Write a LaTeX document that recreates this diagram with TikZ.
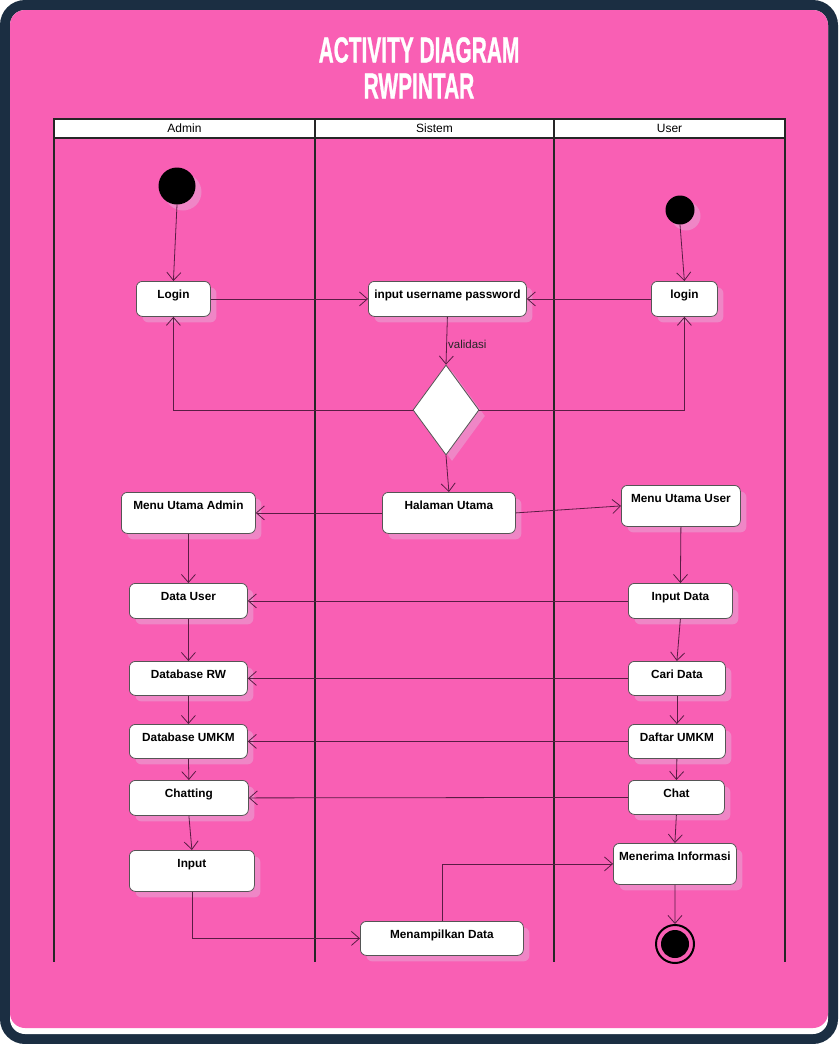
\documentclass[tikz,border=0pt]{standalone}
\usepackage{fontspec}
\setmainfont{Liberation Sans}
\newfontfamily\titlefont{Liberation Sans}[BoldFeatures={FakeBold=1.2}]
\usepackage{graphicx}
\usetikzlibrary{shapes.geometric, arrows.meta, shadows, calc}
\definecolor{bgpink}{HTML}{F95FB4}
\definecolor{shpink}{HTML}{EF86C6}
\definecolor{navy}{HTML}{1B2E42}
\definecolor{conn}{HTML}{5A1C44}
\definecolor{boxline}{HTML}{555555}
\newcommand\actnode[6]{%
  \node[act, minimum width=#4-#2, minimum height=#5-#3] (#1) at (#2,#3) {};
  \node[acttxt] (#1t) at ($(#1.north)+(0,17.5)$) {#6};}
\begin{document}
\begin{tikzpicture}[x=1pt,y=-1pt,
  shad/.style={drop shadow={shadow xshift=6pt, shadow yshift=-6pt, fill=shpink, opacity=1}},
  act/.style={draw=boxline, fill=white, rounded corners=6pt, line width=0.8pt, inner sep=0pt, anchor=north west, shad},
  acttxt/.style={font=\fontsize{11.8}{14}\selectfont\bfseries, inner sep=0pt, anchor=base},
  flow/.style={draw=conn, line width=0.8pt, -{Straight Barb[length=8pt,width=14pt]}},
  lane/.style={draw=black!85, line width=1.3pt}]
\useasboundingbox (0,0) rectangle (838,1044);
% frame
\fill[navy, rounded corners=25pt] (0,0) rectangle (838,1044);
\fill[white, rounded corners=15pt] (10,10) rectangle (828,1034);
\fill[bgpink, rounded corners=15pt] (10,10) rectangle (828,1028);
% title
\node[text=white, font=\titlefont\fontsize{36}{36}\selectfont\bfseries, inner sep=0pt] (t1) at (419,50) {\scalebox{0.58}[1]{ACTIVITY DIAGRAM}};
\node[text=white, font=\titlefont\fontsize{36}{36}\selectfont\bfseries, inner sep=0pt] (t2) at (419,86) {\scalebox{0.58}[1]{RWPINTAR}};
% swimlanes
\draw[lane, fill=white] (54,119) rectangle (785,138);
\draw[lane] (315,119) -- (315,962);
\draw[lane] (554,119) -- (554,962);
\draw[lane] (54,138) -- (54,962);
\draw[lane] (785,138) -- (785,962);
\node[font=\fontsize{12}{14}\selectfont] (hA) at (184.5,128.5) {Admin};
\node[font=\fontsize{12}{14}\selectfont] (hS) at (434.5,128.5) {Sistem};
\node[font=\fontsize{12}{14}\selectfont] (hU) at (669.5,128.5) {User};
% start / end
\node[circle, fill=black, minimum size=37pt, inner sep=0pt, shad] (s1) at (177,186) {};
\node[circle, fill=black, minimum size=29pt, inner sep=0pt, shad] (s2) at (680,210) {};
\node[circle, draw=black, line width=2pt, fill=bgpink, minimum size=38pt, inner sep=0pt,
  path picture={\fill[black] (path picture bounding box.center) circle (14pt);}] (fin) at (675,944) {};
% activities
\actnode{login}{136}{281}{210}{316}{Login}
\actnode{input}{368}{281}{526}{316}{input username password}
\actnode{ulogin}{651}{281}{717}{316}{login}
\node[diamond, draw=boxline, fill=white, line width=0.8pt, minimum width=66pt, minimum height=90pt, inner sep=0pt, shad] (dia) at (446,410) {};
\actnode{halaman}{382}{492}{515}{533}{Halaman Utama}
\actnode{madmin}{121}{492}{255}{533}{Menu Utama Admin}
\actnode{muser}{621}{485}{740}{526}{Menu Utama User}
\actnode{duser}{129}{583}{247}{618}{Data User}
\actnode{dbrw}{129}{661}{247}{695}{Database RW}
\actnode{dbumkm}{129}{724}{247}{758}{Database UMKM}
\actnode{chatting}{129}{780}{248}{815}{Chatting}
\actnode{inp}{129}{850}{254}{891}{Input}
\actnode{mdata}{360}{921}{523}{955}{Menampilkan Data}
\actnode{idata}{628}{583}{732}{618}{Input Data}
\actnode{cari}{628}{661}{725}{695}{Cari Data}
\actnode{daftar}{628}{724}{725}{758}{Daftar UMKM}
\actnode{chat}{628}{780}{724}{814}{Chat}
\actnode{terima}{613}{843}{736}{884}{Menerima Informasi}
\node[font=\fontsize{11.5}{13}\selectfont, text=black!85, anchor=west, inner sep=0pt] (val) at (448,344) {validasi};
% flows
\draw[flow] (s1.south) -- (login.north);
\draw[flow] (s2.south) -- (ulogin.north);
\draw[flow] (login.east) -- (input.west);
\draw[flow] (ulogin.west) -- (input.east);
\draw[flow] (input.south) -- (dia.north);
\draw[flow] (dia.west) -| (login.south);
\draw[flow] (dia.east) -| (ulogin.south);
\draw[flow] (dia.south) -- (halaman.north);
\draw[flow] (halaman.west) -- (madmin.east);
\draw[flow] (halaman.east) -- (muser.west);
\draw[flow] (madmin.south) -- (duser.north);
\draw[flow] (duser.south) -- (dbrw.north);
\draw[flow] (dbrw.south) -- (dbumkm.north);
\draw[flow] (dbumkm.south) -- (chatting.north);
\draw[flow] (chatting.south) -- (inp.north);
\draw[flow] (inp.south) |- (mdata.west);
\draw[flow] (mdata.north) |- (terima.west);
\draw[flow] (muser.south) -- (idata.north);
\draw[flow] (idata.south) -- (cari.north);
\draw[flow] (cari.south) -- (daftar.north);
\draw[flow] (daftar.south) -- (chat.north);
\draw[flow] (chat.south) -- (terima.north);
\draw[flow] (terima.south) -- (fin.north);
\draw[flow] (idata.west) -- (duser.east);
\draw[flow] (cari.west) -- (dbrw.east);
\draw[flow] (daftar.west) -- (dbumkm.east);
\draw[flow] (chat.west) -- (chatting.east);
\end{tikzpicture}
\end{document}
